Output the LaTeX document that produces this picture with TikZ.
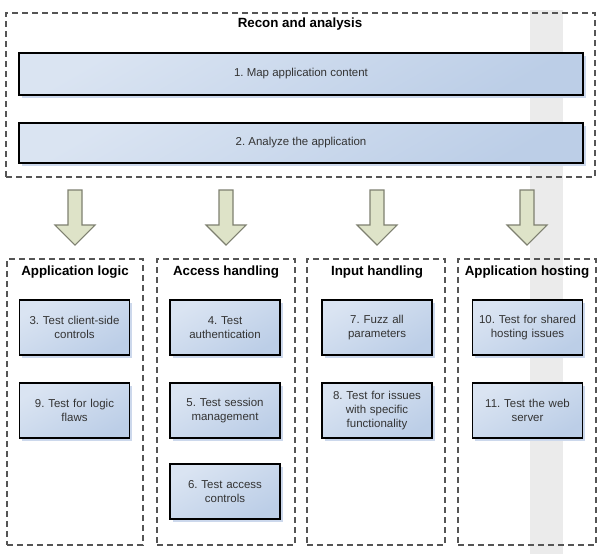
\documentclass[tikz,border=0pt]{standalone}
\usepackage{fontspec}
\setmainfont{Liberation Sans}
\usetikzlibrary{shadows}
\definecolor{boxlo}{HTML}{BCCEE7}
\definecolor{boxhi}{HTML}{DAE4F2}
\definecolor{shadowc}{HTML}{CCD8EC}
\definecolor{arrowfill}{HTML}{DEE3C8}
\definecolor{arrowdraw}{HTML}{7E8070}
\definecolor{bandc}{HTML}{EBEBEB}
\definecolor{dashc}{HTML}{555555}
\definecolor{textc}{HTML}{333333}
\frenchspacing
\begin{document}
\begin{tikzpicture}[x=0.75pt,y=-0.75pt,
  stepbox/.style={draw=black, line width=1.3pt, top color=boxhi, bottom color=boxlo,
    shading angle=30, inner sep=0pt, align=center, text=textc,
    font=\fontsize{8.6pt}{10.5pt}\selectfont,
    general shadow={fill=shadowc, shadow xshift=2.2pt, shadow yshift=-2.2pt}},
  smallbox/.style={stepbox, minimum width=110*0.75pt, minimum height=55*0.75pt, text width=100*0.75pt},
  groupbox/.style={draw=dashc, line width=0.8pt, dash pattern=on 4.5pt off 3pt, inner sep=0pt},
  grouptitle/.style={font=\bfseries\fontsize{10pt}{12pt}\selectfont, text=black, inner sep=0pt},
  arrowstyle/.style={draw=arrowdraw, fill=arrowfill, line width=0.8pt, line join=miter},
  pics/downarrow/.style={code={\draw[arrowstyle] (-7,0) -- (7,0) -- (7,35) -- (20,35) -- (0,55) -- (-20,35) -- (-7,35) -- cycle;}}
]
\useasboundingbox (0,0) rectangle (600,554);
% grey band
\fill[bandc] (530,10) rectangle (563,554);

% recon group
\node[groupbox, minimum width=589*0.75pt, minimum height=164*0.75pt] (recon) at (300.5,95) {};
\node[grouptitle] (recontitle) at (300,24) {Recon and analysis};
\node[stepbox, minimum width=564*0.75pt, minimum height=42*0.75pt] (s1) at (301,74) {1. Map application content};
\node[stepbox, minimum width=564*0.75pt, minimum height=40*0.75pt] (s2) at (301,143) {2. Analyze the application};

% arrows
\pic at (75,190) {downarrow};
\pic at (226,190) {downarrow};
\pic at (377,190) {downarrow};
\pic at (527,190) {downarrow};

% groups
\node[groupbox, minimum width=136*0.75pt, minimum height=286*0.75pt] (g1) at (75,402) {};
\node[groupbox, minimum width=138*0.75pt, minimum height=286*0.75pt] (g2) at (226,402) {};
\node[groupbox, minimum width=138*0.75pt, minimum height=286*0.75pt] (g3) at (376,402) {};
\node[groupbox, minimum width=138*0.75pt, minimum height=286*0.75pt] (g4) at (527,402) {};

\node[grouptitle] (t1) at (75,272) {Application logic};
\node[grouptitle] (t2) at (226,272) {Access handling};
\node[grouptitle] (t3) at (377,272) {Input handling};
\node[grouptitle] (t4) at (527,272) {Application hosting};

% steps
\node[smallbox] (s3) at (74.5,327.5) {3. Test client-side\\controls};
\node[smallbox] (s9) at (74.5,410.5) {9. Test for logic\\flaws};
\node[smallbox] (s4) at (225,327.5) {4. Test\\authentication};
\node[smallbox] (s5) at (225,410.5) {5. Test session\\management};
\node[smallbox] (s6) at (225,491.5) {6. Test access\\controls};
\node[smallbox] (s7) at (377,327.5) {7. Fuzz all\\parameters};
\node[smallbox] (s8) at (377,410.5) {8. Test for issues\\with specific\\functionality};
\node[smallbox] (s10) at (527.5,327.5) {10. Test for shared\\hosting issues};
\node[smallbox] (s11) at (527.5,410.5) {11. Test the web\\server};
\end{tikzpicture}
\end{document}
